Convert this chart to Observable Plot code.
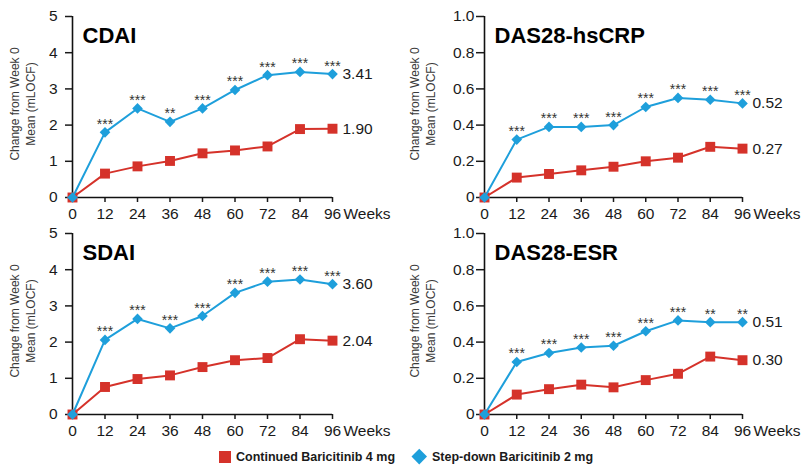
<!DOCTYPE html>
<html>
<head>
<meta charset="utf-8">
<script src="https://cdn.jsdelivr.net/npm/d3@7"></script>
<script src="https://cdn.jsdelivr.net/npm/@observablehq/plot@0.6"></script>
<style>
  body { margin: 0; background: #fff; font-family: "Liberation Sans", Arial, sans-serif; }
  #wrap { position: relative; width: 807px; height: 470px; overflow: hidden; }
  .panel { position: absolute; }
  .ytitle { position: absolute; width: 200px; height: 32px; line-height: 16px; font-size: 12px;
            color: #3a3a3a; text-align: center; transform: rotate(-90deg); white-space: nowrap; }
  .legtext { position: absolute; font-size: 12.5px; font-weight: bold; color: #1a1a1a; white-space: nowrap; line-height: 14px; }
</style>
</head>
<body>
<div id="wrap"></div>
<script>
// ---- data ----
const weeks = [0, 12, 24, 36, 48, 60, 72, 84, 96];
const seriesNames = ["Continued Baricitinib 4 mg", "Step-down Baricitinib 2 mg"];
const yTitleLines = ["Change from Week 0", "Mean (mLOCF)"];
const xUnit = "Weeks";

const cdai4 = [0, 0.66, 0.86, 1.01, 1.22, 1.30, 1.41, 1.89, 1.90];
const cdai2 = [0, 1.80, 2.46, 2.09, 2.46, 2.97, 3.38, 3.47, 3.41];
const cdaiSig = ["", "***", "***", "**", "***", "***", "***", "***", "***"];

const hscrp4 = [0, 0.11, 0.13, 0.15, 0.17, 0.20, 0.22, 0.28, 0.27];
const hscrp2 = [0, 0.32, 0.39, 0.39, 0.40, 0.50, 0.55, 0.54, 0.52];
const hscrpSig = ["", "***", "***", "***", "***", "***", "***", "***", "***"];

const sdai4 = [0, 0.76, 0.98, 1.08, 1.31, 1.50, 1.56, 2.08, 2.04];
const sdai2 = [0, 2.06, 2.64, 2.38, 2.72, 3.36, 3.67, 3.73, 3.60];
const sdaiSig = ["", "***", "***", "***", "***", "***", "***", "***", "***"];

const esr4 = [0, 0.11, 0.14, 0.165, 0.15, 0.19, 0.225, 0.32, 0.30];
const esr2 = [0, 0.29, 0.34, 0.37, 0.38, 0.46, 0.52, 0.51, 0.51];
const esrSig = ["", "***", "***", "***", "***", "***", "***", "**", "**"];

const ticksScore = [0, 1, 2, 3, 4, 5];
const ticksDas = [0, 0.2, 0.4, 0.6, 0.8, 1.0];

const RED = "#d5322a";
const BLUE = "#1e9fdb";
const FONT = "'Liberation Sans', Arial, sans-serif";

const wrap = document.getElementById("wrap");

function panel({title, v4, v2, sig, yTicks, fmt, left, top, width, marginLeft, marginRight, tickSize, tickPadding, titleX}) {
  const d4 = weeks.map((w, i) => ({w, v: v4[i]}));
  const d2 = weeks.map((w, i) => ({w, v: v2[i], s: sig[i]}));
  const last = weeks.length - 1;
  const ends = [
    {w: weeks[last], v: v2[last]},
    {w: weeks[last], v: v4[last]}
  ];
  const chart = Plot.plot({
    width, height: 222,
    marginLeft, marginRight, marginTop: 16, marginBottom: 25,
    style: {fontFamily: FONT, fontSize: "15.5px", color: "#1a1a1a", background: "transparent", overflow: "visible"},
    x: {domain: [weeks[0], weeks[last]]},
    y: {domain: [yTicks[0], yTicks[yTicks.length - 1]]},
    marks: [
      Plot.axisY({ticks: yTicks, tickFormat: fmt, tickSize, tickPadding, label: null, strokeWidth: 1.5}),
      Plot.axisX({ticks: weeks, tickFormat: d3.format("d"), tickSize: 5, tickPadding: 5, label: null, strokeWidth: 1.5}),
      Plot.ruleX([weeks[0]], {stroke: "#111", strokeWidth: 1.6}),
      Plot.ruleY([yTicks[0]], {stroke: "#111", strokeWidth: 1.6}),
      Plot.line(d4, {x: "w", y: "v", stroke: RED, strokeWidth: 2}),
      Plot.dot(d4, {x: "w", y: "v", symbol: "square", r: 5.6, fill: RED}),
      Plot.line(d2, {x: "w", y: "v", stroke: BLUE, strokeWidth: 2}),
      Plot.dot(d2, {x: "w", y: "v", symbol: "diamond2", r: 4.8, fill: BLUE}),
      Plot.text(d2.filter(d => d.s), {x: "w", y: "v", text: "s", dy: -8, fontSize: 14, fill: "#333"}),
      Plot.text(ends, {x: "w", y: "v", text: d => d.v.toFixed(2), textAnchor: "start", dx: 10, fontSize: 15.5, fill: "#1a1a1a"}),
      Plot.text([title], {text: d => d, frameAnchor: "top-left", dx: 10, dy: 11, lineAnchor: "top", textAnchor: "start", fontWeight: "bold", fontSize: 22, fill: "#000"}),
      Plot.text([xUnit], {text: d => d, x: () => weeks[last], frameAnchor: "bottom", lineAnchor: "top", textAnchor: "start", dx: 11, dy: 10, fontSize: 15.5, fill: "#1a1a1a"})
    ]
  });
  chart.classList.add("panel");
  chart.style.left = left + "px";
  chart.style.top = top + "px";
  wrap.appendChild(chart);

  const yt = document.createElement("div");
  yt.className = "ytitle";
  yt.innerHTML = yTitleLines.join("<br>");
  const cx = left + titleX;
  const cy = top + 104;
  yt.style.left = (cx - 100) + "px";
  yt.style.top = (cy - 16) + "px";
  wrap.appendChild(yt);
}

const fmtScore = d3.format("d");
const fmtDas = d => d === 0 ? "0" : d.toFixed(1);

const L = {left: 0, width: 403, marginLeft: 72, marginRight: 71, tickSize: 7, tickPadding: 8, titleX: 23};
const R = {left: 400, width: 407, marginLeft: 84, marginRight: 65, tickSize: 8, tickPadding: 2, titleX: 23};

panel({...L, top: 0, title: "CDAI", v4: cdai4, v2: cdai2, sig: cdaiSig, yTicks: ticksScore, fmt: fmtScore});
panel({...R, top: 0, title: "DAS28-hsCRP", v4: hscrp4, v2: hscrp2, sig: hscrpSig, yTicks: ticksDas, fmt: fmtDas});
panel({...L, top: 217, title: "SDAI", v4: sdai4, v2: sdai2, sig: sdaiSig, yTicks: ticksScore, fmt: fmtScore});
panel({...R, top: 217, title: "DAS28-ESR", v4: esr4, v2: esr2, sig: esrSig, yTicks: ticksDas, fmt: fmtDas});

// ---- legend ----
const sq = document.createElement("div");
Object.assign(sq.style, {position: "absolute", left: "219px", top: "451px", width: "12px", height: "12px", background: RED});
wrap.appendChild(sq);
const t1 = document.createElement("div");
t1.className = "legtext"; t1.textContent = seriesNames[0];
Object.assign(t1.style, {left: "236px", top: "450px"});
wrap.appendChild(t1);
const dm = document.createElement("div");
Object.assign(dm.style, {position: "absolute", left: "414px", top: "451px", width: "10.5px", height: "10.5px", background: BLUE, transform: "rotate(45deg)"});
wrap.appendChild(dm);
const t2 = document.createElement("div");
t2.className = "legtext"; t2.textContent = seriesNames[1];
Object.assign(t2.style, {left: "432px", top: "450px"});
wrap.appendChild(t2);
</script>
</body>
</html>
